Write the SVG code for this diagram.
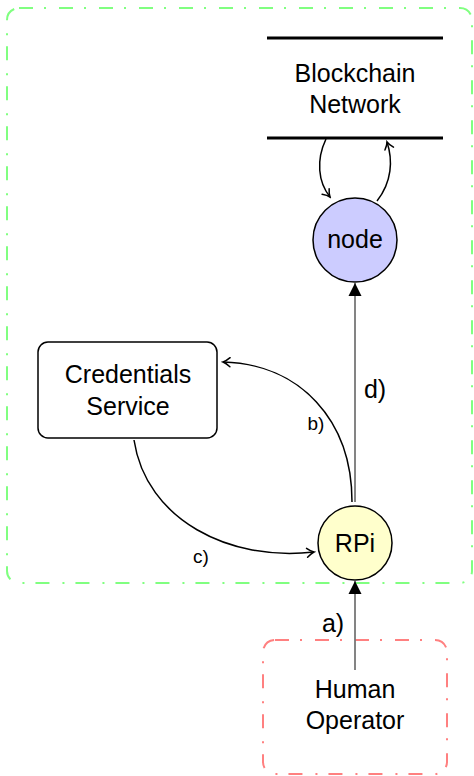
<svg xmlns="http://www.w3.org/2000/svg" width="474" height="776" viewBox="0 0 474 776">
<style>
text{font-family:"Liberation Sans",Arial,sans-serif;fill:#000;text-anchor:middle}
.big{font-size:25px}
.small{font-size:19px}
.curve{fill:none;stroke:#000;stroke-width:1.5}
.gray{fill:none;stroke:#777;stroke-width:1.8}
.frame{fill:none;stroke-width:2;stroke-dasharray:14 11 2 13}
</style>
<defs>
<marker id="open" viewBox="-10 -6 12 12" refX="0" refY="0" markerWidth="12" markerHeight="12" markerUnits="userSpaceOnUse" orient="auto">
<path d="M-7,-4.5 Q-3,-1 0,0 Q-3,1 -7,4.5" fill="none" stroke="#000" stroke-width="1.5" stroke-linecap="round"/>
</marker>
<marker id="tri" viewBox="-14 -7 15 14" refX="0" refY="0" markerWidth="15" markerHeight="14" markerUnits="userSpaceOnUse" orient="auto">
<path d="M-13,-6.5 L0,0 L-13,6.5 Z" fill="#000"/>
</marker>
</defs>
<g id="main-frame"><rect class="frame" x="7" y="8" width="465" height="575" rx="12" stroke="#80ff80"/></g>
<g id="human-frame"><rect class="frame" x="263" y="640" width="184" height="134" rx="12" stroke="#ff8080"/></g>
<g id="blockchain">
<line x1="267" y1="38" x2="443" y2="38" stroke="#000" stroke-width="3"/>
<line x1="267" y1="138" x2="443" y2="138" stroke="#000" stroke-width="3"/>
<text class="big" x="355" y="82">Blockchain</text>
<text class="big" x="355" y="113">Network</text>
</g>
<g id="node">
<circle cx="355" cy="240" r="42" fill="#ccccff" stroke="#000" stroke-width="1.5"/>
<text class="big" x="355" y="248">node</text>
</g>
<g id="credentials">
<rect x="38" y="342" width="179" height="96" rx="10" fill="#fff" stroke="#000" stroke-width="1.5"/>
<text class="big" x="128" y="383">Credentials</text>
<text class="big" x="128" y="415">Service</text>
</g>
<g id="rpi">
<circle cx="355" cy="543" r="37" fill="#ffffcc" stroke="#000" stroke-width="1.5"/>
<text class="big" x="355" y="552">RPi</text>
</g>
<g id="human">
<text class="big" x="355" y="698">Human</text>
<text class="big" x="355" y="729">Operator</text>
</g>
<g id="connectors">
<path class="curve" d="M326,139 C316,160 318,182 330,197" marker-end="url(#open)"/>
<path class="curve" d="M377,201 C392,182 393,160 387,142" marker-end="url(#open)"/>
<line class="gray" x1="355" y1="502" x2="355" y2="283" marker-end="url(#tri)"/>
<path class="curve" d="M352,502 C352,420 300,364 223,362" marker-end="url(#open)"/>
<path class="curve" d="M134,440 C146,520 230,562 314,552" marker-end="url(#open)"/>
<line class="gray" x1="355" y1="670" x2="355" y2="581" marker-end="url(#tri)"/>
<text class="big" x="375" y="398">d)</text>
<text class="small" x="316" y="430">b)</text>
<text class="small" x="201" y="563">c)</text>
<text class="big" x="333" y="632">a)</text>
</g>
</svg>
